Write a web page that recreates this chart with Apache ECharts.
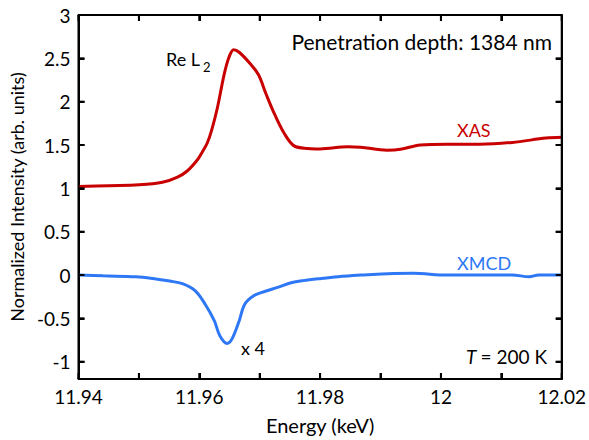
<!DOCTYPE html>
<html>
<head>
<meta charset="utf-8">
<script src="https://cdn.jsdelivr.net/npm/echarts@6/dist/echarts.min.js"></script>
<style>
  html, body { margin: 0; padding: 0; background: #fff; }
  #chart { width: 589px; height: 440px; }
</style>
</head>
<body>
<div id="chart"></div>
<script>
// XAS 曲线 (能量 keV, 归一化强度)
var xasEnergy = [11.94, 11.945, 11.95, 11.9539, 11.9564, 11.958, 11.9597, 11.9605, 11.9613, 11.962, 11.963, 11.9641, 11.9649, 11.9657, 11.9666, 11.9684, 11.9698, 11.9711, 11.9725, 11.9741, 11.9757, 11.978, 11.98, 11.9846, 11.9867, 11.9911, 11.9933, 11.9966, 12.001, 12.0064, 12.0118, 12.0174, 12.02];
var xasValue = [1.02, 1.03, 1.04, 1.07, 1.13, 1.2, 1.33, 1.42, 1.52, 1.66, 1.93, 2.31, 2.51, 2.6, 2.57, 2.44, 2.31, 2.08, 1.85, 1.63, 1.49, 1.46, 1.455, 1.48, 1.475, 1.44, 1.45, 1.5, 1.51, 1.51, 1.53, 1.58, 1.59];

// XMCD 曲线 (x4)
var xmcdEnergy = [11.94, 11.9441, 11.9495, 11.9523, 11.9551, 11.9572, 11.9593, 11.961, 11.9625, 11.9634, 11.9646, 11.9654, 11.9666, 11.9675, 11.969, 11.9708, 11.9731, 11.9752, 11.9772, 11.9802, 11.983, 11.9867, 11.9954, 12.001, 12.0118, 12.0146, 12.0162, 12.0198];
var xmcdValue = [0, -0.01, -0.02, -0.04, -0.07, -0.1, -0.18, -0.34, -0.53, -0.7, -0.79, -0.74, -0.53, -0.34, -0.24, -0.19, -0.14, -0.09, -0.065, -0.04, -0.02, 0, 0.02, 0.0, 0.0, -0.02, 0, 0];

// 坐标轴刻度
var xTicks = [11.94, 11.95, 11.96, 11.97, 11.98, 11.99, 12.0, 12.01, 12.02];
var yTicks = [-1, -0.5, 0, 0.5, 1, 1.5, 2, 2.5, 3];
var xRange = [11.94, 12.02];
var yRange = [-1.2, 3];

var FONT = 'Lato';

function pairs(xs, ys) {
  var out = [];
  for (var i = 0; i < xs.length; i++) out.push([xs[i], ys[i]]);
  return out;
}
function lineOpt() {
  return { show: true, onZero: false, lineStyle: { color: '#000', width: 2 } };
}
function tickOpt(custom) {
  var t = { show: true, inside: true, length: 6, lineStyle: { color: '#000', width: 2 } };
  if (custom) t.customValues = custom;
  return t;
}
// 文字注释 (用 title 组件放置)
function note(text, pos, color, size, italic) {
  var t = {
    text: text,
    padding: 0,
    textStyle: {
      fontFamily: FONT, fontSize: size || 18, fontWeight: 'normal',
      fontStyle: italic ? 'italic' : 'normal', color: color || '#000'
    }
  };
  for (var k in pos) t[k] = pos[k];
  return t;
}

var chart = echarts.init(document.getElementById('chart'), null, { renderer: 'svg' });

chart.setOption({
  backgroundColor: '#fff',
  animation: false,
  title: [
    note('Re L', { left: 166, top: 50 }, '#000', 18),
    note('2', { left: 203, top: 60 }, '#000', 13),
    note('Penetration depth: 1384 nm', { right: 37, top: 31 }, '#000', 21),
    note('XAS', { left: 457, top: 121 }, '#C80000', 18),
    note('XMCD', { left: 457, top: 254 }, '#2E78F5', 18),
    note('x 4', { left: 241, top: 339 }, '#000', 18),
    note('T', { left: 466, top: 347 }, '#000', 19, true),
    note('= 200 K', { right: 42, top: 347 }, '#000', 19)
  ],
  grid: { left: 75, right: 26, top: 15, bottom: 58 },
  xAxis: [{
    type: 'value',
    min: xRange[0],
    max: xRange[1],
    interval: 0.01,
    name: 'Energy (keV)',
    nameLocation: 'middle',
    nameGap: 36,
    nameTextStyle: { fontFamily: FONT, fontSize: 20, color: '#000' },
    axisLine: lineOpt(),
    axisTick: tickOpt(),
    splitLine: { show: false },
    axisLabel: {
      fontFamily: FONT, fontSize: 19, color: '#000', margin: 8,
      formatter: function (v) {
        var k = Math.round(v * 100);
        if (k % 2 !== 0) return '';
        return String(+v.toFixed(2));
      }
    }
  }, {
    type: 'value',
    position: 'top',
    min: xRange[0],
    max: xRange[1],
    interval: 0.01,
    axisLine: lineOpt(),
    axisTick: tickOpt(),
    axisLabel: { show: false },
    splitLine: { show: false }
  }],
  yAxis: [{
    type: 'value',
    min: yRange[0],
    max: yRange[1],
    name: 'Normalized Intensity (arb. units)',
    nameLocation: 'middle',
    nameGap: 51,
    nameTextStyle: { fontFamily: FONT, fontSize: 18, color: '#000' },
    axisLine: lineOpt(),
    axisTick: tickOpt(yTicks),
    axisLabel: { fontFamily: FONT, fontSize: 19, color: '#000', margin: 8, customValues: yTicks },
    splitLine: { show: false }
  }, {
    type: 'value',
    position: 'right',
    min: yRange[0],
    max: yRange[1],
    axisLine: lineOpt(),
    axisTick: tickOpt(yTicks),
    axisLabel: { show: false },
    splitLine: { show: false }
  }],
  series: [{
    name: 'XAS',
    type: 'line',
    data: pairs(xasEnergy, xasValue),
    smooth: 0.35,
    showSymbol: false,
    lineStyle: { color: '#C80000', width: 3 }
  }, {
    name: 'XMCD',
    type: 'line',
    data: pairs(xmcdEnergy, xmcdValue),
    smooth: 0.35,
    showSymbol: false,
    lineStyle: { color: '#2E78F5', width: 3 }
  }]
});

// 边框和内向刻度 (通过坐标轴换算到像素)
var lo = chart.convertToPixel({ xAxisIndex: 0, yAxisIndex: 0 }, [xRange[0], yRange[0]]);
var hi = chart.convertToPixel({ xAxisIndex: 0, yAxisIndex: 0 }, [xRange[1], yRange[1]]);
var L = lo[0], B = lo[1], R = hi[0], T = hi[1];
var TICK = 6;
function seg(x1, y1, x2, y2) {
  return {
    type: 'line', silent: true, z: 10,
    shape: { x1: x1, y1: y1, x2: x2, y2: y2 },
    style: { stroke: '#000', lineWidth: 2 }
  };
}
var els = [seg(L, B, R, B), seg(L, T, R, T), seg(L, B, L, T), seg(R, B, R, T)];
xTicks.forEach(function (v) {
  var px = chart.convertToPixel({ xAxisIndex: 0 }, v);
  els.push(seg(px, B, px, B - TICK));
  els.push(seg(px, T, px, T + TICK));
});
yTicks.forEach(function (v) {
  var py = chart.convertToPixel({ yAxisIndex: 0 }, v);
  els.push(seg(L, py, L + TICK, py));
  els.push(seg(R, py, R - TICK, py));
});
chart.setOption({ graphic: els });
</script>
</body>
</html>
